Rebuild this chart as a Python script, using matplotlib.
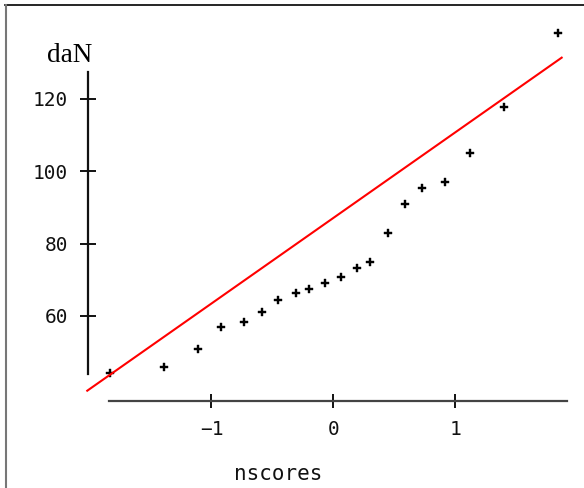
import matplotlib
matplotlib.use("Agg")
import matplotlib.pyplot as plt
from matplotlib.lines import Line2D

# ---- data ----
nscores = [-1.834, -1.388, -1.108, -0.922, -0.736, -0.588, -0.456, -0.309, -0.200, -0.068,
           0.063, 0.192, 0.304, 0.452, 0.586, 0.731, 0.917, 1.122, 1.401, 1.847]
dan = [44.2, 45.8, 50.9, 57.0, 58.2, 61.2, 64.5, 66.2, 67.4, 69.1,
       70.8, 73.2, 74.9, 82.9, 90.8, 95.4, 97.1, 105.0, 117.6, 138.2]
line_x = [-2.02, 1.875]
line_intercept = 87.05
line_slope = 23.62
x_ticks = [-1, 0, 1]
y_ticks = [60, 80, 100, 120]
x_label = "nscores"
y_label = "daN"

W, H, DPI = 584, 488, 100
fig = plt.figure(figsize=(W / DPI, H / DPI), dpi=DPI)
ax = fig.add_axes([0, 0, 1, 1])
ax.patch.set_alpha(0)

# pixel -> data mapping
x0px, xscale = 333.3, 121.8
y120px, yscale = 98.7, 3.62
ax.set_xlim((0 - x0px) / xscale, (W - x0px) / xscale)
ax.set_ylim(120 - (H - y120px) / yscale, 120 + y120px / yscale)

mono = "DejaVu Sans Mono"

ax.plot(nscores, dan, linestyle="none", marker="P", markersize=6.3,
        color="black", markeredgewidth=0.3, markeredgecolor="black")
ly = [line_intercept + line_slope * v for v in line_x]
ax.plot(line_x, ly, color="#ff0000", linewidth=1.5)

for s in ["top", "right"]:
    ax.spines[s].set_visible(False)
ax.spines["left"].set_position(("data", (88 - x0px) / xscale))
ax.spines["bottom"].set_position(("data", 120 - (400.7 - y120px) / yscale))
ax.spines["left"].set_bounds(120 - (374 - y120px) / yscale, 120 + (y120px - 72.3) / yscale)
ax.spines["bottom"].set_bounds((109.3 - x0px) / xscale, (566.7 - x0px) / xscale)
ax.spines["left"].set_linewidth(1.6)
ax.spines["left"].set_color("#111111")
ax.spines["bottom"].set_linewidth(1.6)
ax.spines["bottom"].set_color("#444444")

ax.set_xticks(x_ticks)
ax.set_xticklabels(["\u22121", "0", "1"])
ax.set_yticks(y_ticks)
ax.tick_params(axis="y", direction="inout", length=11.5, width=1.4, pad=8.6,
               labelsize=14, colors="#111111")
ax.tick_params(axis="x", direction="inout", length=10, width=1.4, pad=9,
               labelsize=14, colors="#111111")
for lab in ax.get_xticklabels() + ax.get_yticklabels():
    lab.set_family(mono)

fig.text(46.7 / W, 1 - 62 / H, y_label, family="Liberation Serif", fontsize=19.5,
         ha="left", va="baseline", color="black")
fig.text(278 / W, 1 - 480 / H, x_label, family=mono, fontsize=15,
         ha="center", va="baseline", color="#111111")

# outer frame (top and left only)
fig.add_artist(Line2D([5 / W, 1], [1 - 5 / H, 1 - 5 / H], transform=fig.transFigure,
                      color="black", linewidth=1.2))
fig.add_artist(Line2D([5.5 / W, 5.5 / W], [0, 1 - 5 / H], transform=fig.transFigure,
                      color="#777777", linewidth=1.5))

fig.savefig("out.png", dpi=DPI)
